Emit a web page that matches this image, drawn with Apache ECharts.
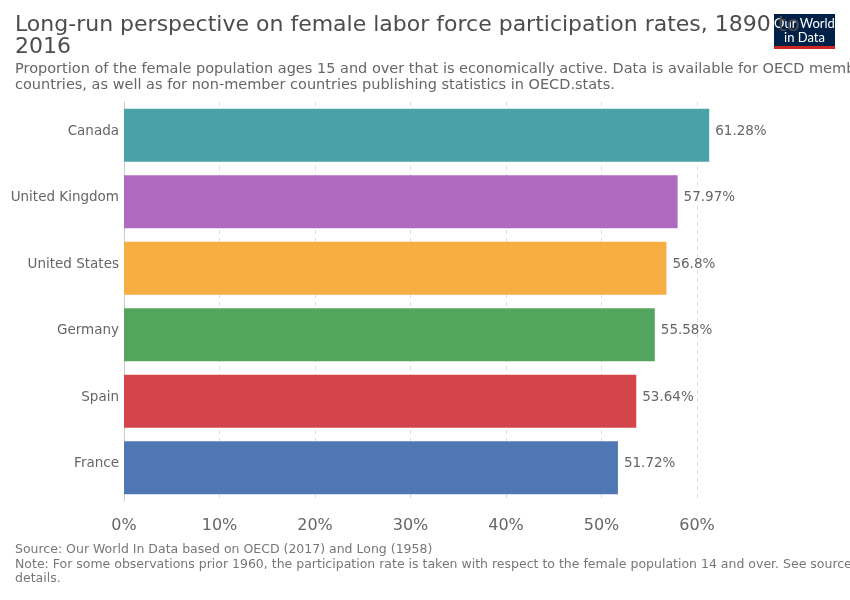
<!DOCTYPE html>
<html>
<head>
<meta charset="utf-8">
<script src="https://cdn.jsdelivr.net/npm/echarts@6/dist/echarts.min.js"></script>
<style>
html,body{margin:0;padding:0;background:#fff;}
#chart{width:850px;height:600px;}
</style>
</head>
<body>
<div id="chart"></div>
<script>
const countries = ["Canada", "United Kingdom", "United States", "Germany", "Spain", "France"];
const values = [61.28, 57.97, 56.8, 55.58, 53.64, 51.72];
const barColors = ["#4ba1a8", "#b06bc1", "#f6ae43", "#53a45c", "#d3454a", "#4f77b4"];
const xTicks = [0, 10, 20, 30, 40, 50, 60];

const titleText = "Long-run perspective on female labor force participation rates, 1890 to\n2016";
const subtitleText = "Proportion of the female population ages 15 and over that is economically active. Data is available for OECD member\ncountries, as well as for non-member countries publishing statistics in OECD.stats.";
const footerText = "Source: Our World In Data based on OECD (2017) and Long (1958)\nNote: For some observations prior 1960, the participation rate is taken with respect to the female population 14 and over. See sources for\ndetails.";

const reg = "'DejaVu Sans', sans-serif";
const logoFont = "Lato, 'DejaVu Sans', sans-serif";

const chart = echarts.init(document.getElementById('chart'), null, {renderer: 'canvas'});
chart.setOption({
  animation: false,
  backgroundColor: '#fff',
  title: [
    {text: titleText, left: 10, top: 9,
     textStyle: {fontFamily: reg, fontSize: 22, fontWeight: 'normal', color: '#4d4d4d', lineHeight: 22}},
    {text: subtitleText, left: 10, top: 56,
     textStyle: {fontFamily: reg, fontSize: 14.5, fontWeight: 'normal', color: '#666', lineHeight: 16}},
    {text: footerText, left: 10, top: 537.5,
     textStyle: {fontFamily: reg, fontSize: 12.5, fontWeight: 'normal', color: '#777', lineHeight: 14.5}}
  ],
  graphic: [
    {type: 'group', left: 774, top: 14, z: 100, children: [
      {type: 'rect', shape: {x: 0, y: 0, width: 61, height: 35}, style: {fill: '#002147'}},
      {type: 'rect', shape: {x: 0, y: 32, width: 61, height: 3}, style: {fill: '#ce261e'}},
      {type: 'text', style: {x: 30.5, y: 10, text: 'Our World', fill: '#fff', font: "13px " + logoFont, textAlign: 'center', textVerticalAlign: 'middle'}},
      {type: 'text', style: {x: 30.5, y: 24, text: 'in Data', fill: '#fff', font: "13px " + logoFont, textAlign: 'center', textVerticalAlign: 'middle'}}
    ]}
  ],
  grid: {left: 124, right: 153, top: 102, bottom: 99, containLabel: false},
  xAxis: {
    type: 'value', min: xTicks[0], max: xTicks[xTicks.length - 1], interval: 10,
    axisLine: {show: false}, axisTick: {show: false},
    axisLabel: {formatter: '{value}%', fontFamily: reg, fontSize: 16, color: '#666', margin: 17},
    splitLine: {show: true, lineStyle: {color: '#ddd', type: [4, 4], width: 1}}
  },
  yAxis: {
    type: 'category', data: countries, inverse: true,
    axisLine: {show: true, lineStyle: {color: '#ccc', width: 1}},
    axisTick: {show: false},
    axisLabel: {fontFamily: reg, fontSize: 13.5, color: '#666', margin: 5,
                verticalAlign: 'bottom', lineHeight: 8}
  },
  series: [{
    type: 'bar',
    clip: false,
    barCategoryGap: '20%',
    data: values.map((v, i) => ({value: v, itemStyle: {color: barColors[i]}})),
    label: {show: true, position: 'right', distance: 6, formatter: '{c}%', offset: [0, -4],
            fontFamily: reg, fontSize: 13.5, color: '#666'}
  }]
});
</script>
</body>
</html>
